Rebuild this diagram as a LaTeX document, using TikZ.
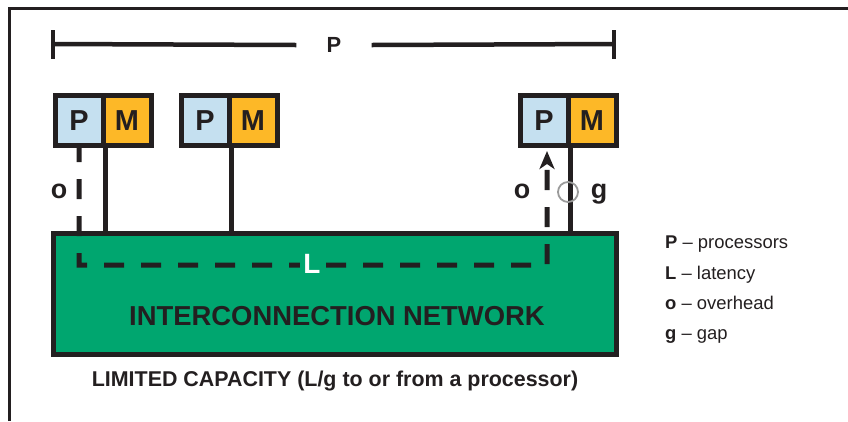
\documentclass[tikz,border=0pt]{standalone}
\usepackage{fontspec}
\setmainfont{Liberation Sans}
\usetikzlibrary{arrows.meta}
\definecolor{ink}{HTML}{231F20}
\definecolor{pblue}{HTML}{C5E0F0}
\definecolor{morange}{HTML}{FDB827}
\definecolor{netgreen}{HTML}{00A66F}
\definecolor{ringgray}{HTML}{9A9A9A}
\tikzset{
  cell/.style={draw=ink, line width=5bp, minimum width=48bp, minimum height=50bp, inner sep=0pt,
    font=\bfseries\fontsize{29}{29}\selectfont, text=ink},
  pcell/.style={cell, fill=pblue},
  mcell/.style={cell, fill=morange},
  wire/.style={draw=ink, line width=4.5bp},
  dashwire/.style={draw=ink, line width=5bp, dash pattern=on 20bp off 17bp},
  biglabel/.style={font=\bfseries\fontsize{27}{27}\selectfont, text=ink, inner sep=0pt},
  legend/.style={font=\fontsize{18.5}{18.5}\selectfont, text=ink, anchor=base west, inner sep=0pt}
}
\begin{document}
\begin{tikzpicture}[x=1bp,y=-1bp]
\useasboundingbox (0,0) rectangle (848,421);
% frame
\draw[ink, line width=3bp] (9,421) -- (9,8) -- (848,8);
% dimension line
\coordinate (tl) at (53,44);
\coordinate (tr) at (614,44);
\node (plab) [minimum width=75bp, inner sep=0pt, font=\bfseries\fontsize{22}{22}\selectfont, text=ink] at (334,45) {P};
\draw[wire] (tl) -- (plab.west);
\draw[wire] (plab.east) -- (tr);
\draw[wire] ([yshift=-14.5bp]tl) -- ([yshift=14.5bp]tl);
\draw[wire] ([yshift=-14.5bp]tr) -- ([yshift=14.5bp]tr);
% network
\node (net) [draw=ink, fill=netgreen, line width=5bp, minimum width=563bp, minimum height=121bp, inner sep=0pt] at (335,294) {};
\node (nettext) [font=\bfseries\fontsize{27.5}{27.5}\selectfont, text=ink] at (337,316) {INTERCONNECTION NETWORK};
% PM boxes
\node (p1) [pcell] at (79,120.5) {P};
\node (m1) [mcell] at (127,120.5) {M};
\node (p2) [pcell] at (205,120.5) {P};
\node (m2) [mcell] at (253,120.5) {M};
\node (p3) [pcell] at (544,120.5) {P};
\node (m3) [mcell] at (592,120.5) {M};
% solid wires
\draw[wire] (p1.south east) -- (p1.south east |- net.north);
\draw[wire] (p2.south east) -- (p2.south east |- net.north);
\draw[wire] (p3.south east) -- (p3.south east |- net.north);
% dashed message path
\coordinate (c1) at (79,265);
\coordinate (c2) at (547,265);
\draw[dashwire, dash phase=6bp, -{Stealth[length=18bp, width=15bp, inset=5bp]}, shorten >=3bp]
  (p1.south) -- (p1.south |- c1) -- (c2) -- ([xshift=3bp]p3.south);
\node (Llab) [fill=netgreen, inner sep=3bp, font=\bfseries\fontsize{28}{28}\selectfont, text=white] at (312,264) {L};
% gap ring
\node (ring) [circle, draw=ringgray, line width=1.8bp, minimum size=20bp, inner sep=0pt] at (568,192) {};
% o / g labels
\node (o1) [biglabel, anchor=base] at (59,198) {o};
\node (o2) [biglabel, anchor=base] at (522,198) {o};
\node (g1) [biglabel, anchor=base] at (599,198) {g};
% capacity caption
\node (cap) [font=\bfseries\fontsize{21.5}{21.5}\selectfont, text=ink] at (335,381) {LIMITED CAPACITY (L/g to or from a processor)};
% legend
\node (lg1) [legend] at (665,248) {\textbf{P} – processors};
\node (lg2) [legend] at (665,279) {\textbf{L} – latency};
\node (lg3) [legend] at (665,309) {\textbf{o} – overhead};
\node (lg4) [legend] at (665,339) {\textbf{g} – gap};
\end{tikzpicture}
\end{document}
